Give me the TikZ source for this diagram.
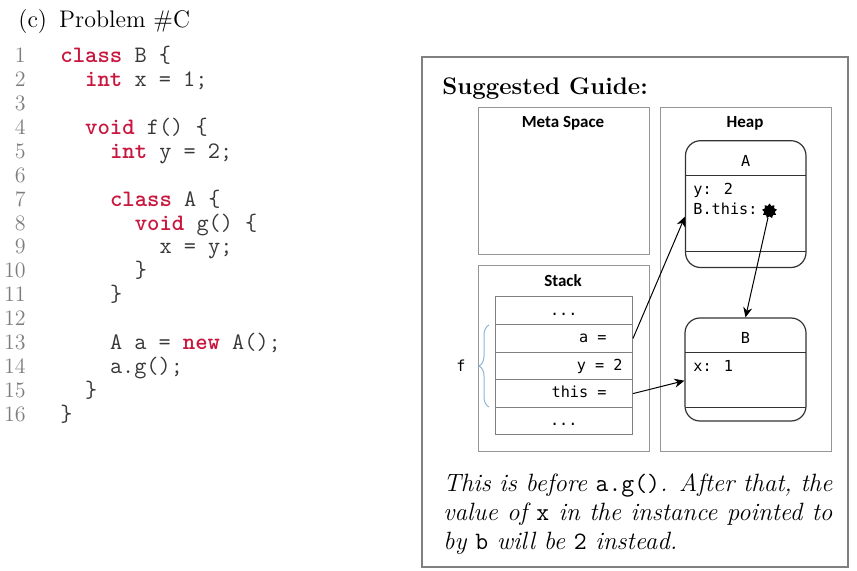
\documentclass[tikz,border=0pt]{standalone}
\usepackage{fontspec}
\newfontfamily\guidesans{Carlito}
\newfontfamily\guidemono{DejaVu Sans Mono}
\usetikzlibrary{arrows.meta,decorations.pathreplacing,shapes.geometric}
\definecolor{keyred}{RGB}{200,22,62}
\definecolor{codegray}{RGB}{55,55,55}
\definecolor{numgray}{RGB}{125,125,125}
\definecolor{framegray}{RGB}{128,128,128}
\definecolor{boxgray}{RGB}{150,150,150}
\definecolor{bracecol}{RGB}{140,180,215}
\newcommand{\kw}[1]{\textcolor{keyred}{\bfseries #1}}
\newcommand{\codeup}[1]{{\upshape\ttfamily #1}}

\begin{document}
\begin{tikzpicture}[x=0.5pt,y=-0.5pt,
    codeline/.style={anchor=base west,inner sep=0pt,font=\fontsize{11.8}{12}\selectfont\ttfamily,text=codegray},
    lineno/.style={anchor=base east,inner sep=0pt,font=\fontsize{11}{12}\selectfont,text=numgray},
    area/.style={draw=boxgray,line width=0.5pt},
    areatitle/.style={anchor=base,inner sep=0pt,font=\guidesans\bfseries\fontsize{8.5}{10}\selectfont},
    cell/.style={draw=framegray,line width=0.5pt,minimum width=68.75pt,minimum height=13.8pt,inner sep=0pt},
    celltext/.style={inner sep=0pt,font=\guidemono\fontsize{7.6}{9}\selectfont},
    object/.style={draw=black!80,line width=0.6pt,rounded corners=7.5pt,inner sep=0pt},
    pointer/.style={line width=0.5pt,-{Stealth[length=5pt,width=4.5pt]}}]
        \useasboundingbox (0,0) rectangle (857,571);
        % problem and its code
        \node[anchor=base west,inner sep=0pt,font=\fontsize{12}{14}\selectfont] (title) at (18,28) {(c)\hspace{6pt}Problem \#C};
        \foreach \n in {1,...,16}
                \node[lineno] (num\n) at (26,{63+(\n-1)*23.87}) {\n};
        \node[codeline] (code1) at (60,63) {\kw{class} B \{};
        \node[codeline] (code2) at (84.8,86.87) {\kw{int} x = 1;};
        \node[codeline] (code4) at (84.8,134.61) {\kw{void} f() \{};
        \node[codeline] (code5) at (109.6,158.48) {\kw{int} y = 2;};
        \node[codeline] (code7) at (109.6,206.22) {\kw{class} A \{};
        \node[codeline] (code8) at (134.4,230.09) {\kw{void} g() \{};
        \node[codeline] (code9) at (159.2,253.96) {x = y;};
        \node[codeline] (code10) at (134.4,277.83) {\}};
        \node[codeline] (code11) at (109.6,301.7) {\}};
        \node[codeline] (code13) at (109.6,349.44) {A a = \kw{new} A();};
        \node[codeline] (code14) at (109.6,373.31) {a.g();};
        \node[codeline] (code15) at (84.8,397.18) {\}};
        \node[codeline] (code16) at (60,421.05) {\}};
        % guide panel
        \draw[draw=framegray,line width=0.6pt] (422,57) rectangle (848,567);
        \node[anchor=base west,inner sep=0pt,font=\fontsize{12}{14}\selectfont\bfseries] (guide) at (442,95) {Suggested Guide:};
        \draw[area] (478,108) rectangle (649,255);
        \draw[area] (660,108) rectangle (831,452);
        \draw[area] (478,266) rectangle (649,452);
        \node[areatitle] (metatitle) at (563,128) {Meta Space};
        \node[areatitle] (heaptitle) at (745,128) {Heap};
        \node[areatitle] (stacktitle) at (563,287) {Stack};
        % stack frame of f
        \node[cell] (cell1) at (563.75,310.8) {};
        \node[cell] (cell2) at (563.75,338.4) {};
        \node[cell] (cell3) at (563.75,366) {};
        \node[cell] (cell4) at (563.75,393.6) {};
        \node[cell] (cell5) at (563.75,421.2) {};
        \node[celltext,anchor=base] (dots1) at (563.75,316) {...};
        \node[celltext,anchor=base east] (aval) at (607,343) {a =};
        \node[celltext,anchor=base east] (yval) at (623,370.6) {y = 2};
        \node[celltext,anchor=base east] (thisval) at (607,398) {this =};
        \node[celltext,anchor=base] (dots2) at (563.75,426) {...};
        \draw[bracecol,line width=0.5pt,decorate,decoration={brace,amplitude=5pt}] (489,407) -- (489,325);
        \node[celltext,anchor=base] (flabel) at (461,371.7) {f};
        % heap objects
        \node[object,minimum width=60.25pt,minimum height=63.4pt] (objA) at (745.75,204.1) {};
        \draw[black!80,line width=0.6pt] (685.5,175.7) -- (806,175.7) (685.5,251.7) -- (806,251.7);
        \node[celltext,anchor=base] (nameA) at (745.75,166.7) {A};
        \node[celltext,anchor=base west] (fieldy) at (693,195) {y: 2};
        \node[celltext,anchor=base west] (fieldthis) at (693,215) {B.this:};
        \node[star,star points=9,star point ratio=1.4,fill=black,inner sep=0pt,minimum size=7.5pt] (dot) at (769.5,211) {};
        \node[object,minimum width=60.5pt,minimum height=51.5pt] (objB) at (745.5,369.5) {};
        \draw[black!80,line width=0.6pt] (685,352.3) -- (806,352.3) (685,407.3) -- (806,407.3);
        \node[celltext,anchor=base] (nameB) at (745.5,343.3) {B};
        \node[celltext,anchor=base west] (fieldx) at (693,372) {x: 1};
        % references
        \draw[pointer] (cell2.east) -- ([yshift=-6.3pt]objA.west);
        \draw[pointer] (dot) -- (objB.north);
        \draw[pointer] (cell4.east) -- ([yshift=-5.6pt]objB.west);
        \node[anchor=north west,inner sep=0pt,text width=194.5pt,align=justify,font=\fontsize{12.5}{14.5}\selectfont\itshape] (note) at (443,473) {This is before \codeup{a.g()}. After that, the value of \codeup{x} in the instance pointed to by \codeup{b} will be \codeup{2} instead.};
\end{tikzpicture}
\end{document}
